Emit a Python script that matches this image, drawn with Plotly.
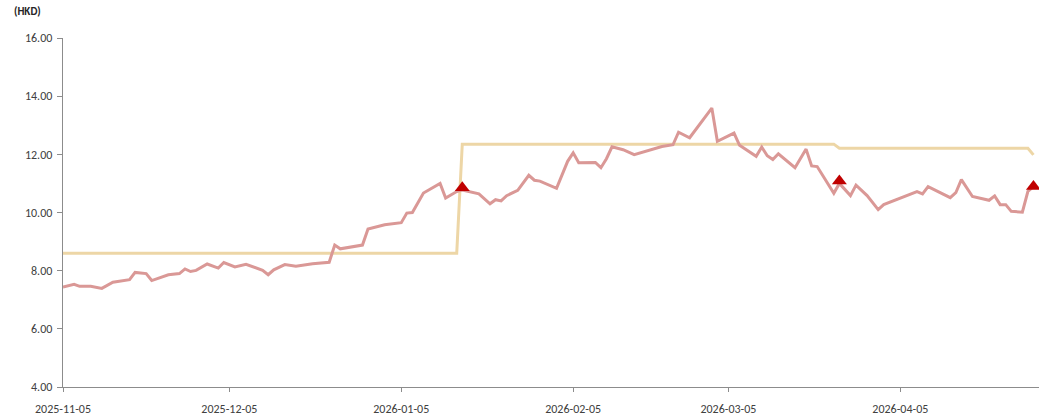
import plotly.graph_objects as go

# Share price (HKD)
price_dates = [
    "2025-11-05", "2025-11-07", "2025-11-08", "2025-11-10", "2025-11-12", "2025-11-13", "2025-11-14",
    "2025-11-17", "2025-11-18", "2025-11-20", "2025-11-21", "2025-11-24", "2025-11-26", "2025-11-27",
    "2025-11-28", "2025-11-29", "2025-12-01", "2025-12-03", "2025-12-04", "2025-12-06", "2025-12-08",
    "2025-12-11", "2025-12-12", "2025-12-13", "2025-12-15", "2025-12-17", "2025-12-20", "2025-12-23",
    "2025-12-24", "2025-12-25", "2025-12-29", "2025-12-30", "2026-01-02", "2026-01-05", "2026-01-06",
    "2026-01-07", "2026-01-09", "2026-01-12", "2026-01-13", "2026-01-15", "2026-01-16", "2026-01-19",
    "2026-01-21", "2026-01-22", "2026-01-23", "2026-01-24", "2026-01-26", "2026-01-28", "2026-01-29",
    "2026-01-30", "2026-02-02", "2026-02-04", "2026-02-05", "2026-02-06", "2026-02-09", "2026-02-10",
    "2026-02-11", "2026-02-12", "2026-02-14", "2026-02-16", "2026-02-19", "2026-02-21", "2026-02-23",
    "2026-02-24", "2026-02-26", "2026-03-02", "2026-03-03", "2026-03-06", "2026-03-07", "2026-03-10",
    "2026-03-11", "2026-03-12", "2026-03-13", "2026-03-14", "2026-03-17", "2026-03-19", "2026-03-20",
    "2026-03-21", "2026-03-24", "2026-03-25", "2026-03-27", "2026-03-28", "2026-03-30", "2026-04-01",
    "2026-04-02", "2026-04-08", "2026-04-09", "2026-04-10", "2026-04-14", "2026-04-15", "2026-04-16",
    "2026-04-18", "2026-04-21", "2026-04-22", "2026-04-23", "2026-04-24", "2026-04-25", "2026-04-27",
    "2026-04-28", "2026-04-29",
]
price_values = [
    7.44, 7.53, 7.46, 7.46, 7.39, 7.51, 7.60,
    7.69, 7.94, 7.90, 7.66, 7.86, 7.90, 8.06,
    7.97, 8.01, 8.23, 8.09, 8.28, 8.13, 8.22,
    8.01, 7.86, 8.03, 8.21, 8.15, 8.24, 8.29,
    8.88, 8.75, 8.88, 9.43, 9.58, 9.65, 9.98,
    10.00, 10.67, 11.00, 10.50, 10.72, 10.77, 10.64,
    10.30, 10.44, 10.40, 10.58, 10.76, 11.28, 11.11,
    11.08, 10.83, 11.76, 12.05, 11.71, 11.72, 11.54,
    11.85, 12.26, 12.16, 11.99, 12.16, 12.27, 12.33,
    12.76, 12.57, 13.59, 12.45, 12.73, 12.31, 11.93,
    12.25, 11.95, 11.82, 12.02, 11.54, 12.18, 11.60,
    11.58, 10.66, 11.00, 10.58, 10.94, 10.58, 10.10,
    10.27, 10.72, 10.64, 10.89, 10.51, 10.68, 11.13,
    10.55, 10.42, 10.57, 10.27, 10.27, 10.04, 10.01,
    10.73, 10.89,
]

# Target price (HKD)
target_dates = ["2025-11-05", "2026-01-15", "2026-01-16", "2026-03-24", "2026-03-25", "2026-04-28", "2026-04-29"]
target_values = [8.60, 8.60, 12.35, 12.35, 12.21, 12.21, 11.98]

# Rating markers
rating_dates = ["2026-01-16", "2026-03-25", "2026-04-29"]
rating_values = [10.85, 11.08, 10.89]

tick_dates = ["2025-11-05", "2025-12-05", "2026-01-05", "2026-02-05", "2026-03-05", "2026-04-05"]
y_ticks = [4, 6, 8, 10, 12, 14, 16]

FONT = "Calibri, Carlito, 'Liberation Sans Narrow', 'Open Sans', Arial, sans-serif"

fig = go.Figure()
fig.add_trace(go.Scatter(
    x=target_dates, y=target_values, mode="lines",
    line=dict(color="#EDD6A6", width=3), hoverinfo="skip", showlegend=False,
))
fig.add_trace(go.Scatter(
    x=price_dates, y=price_values, mode="lines",
    line=dict(color="#DA9896", width=3), hoverinfo="skip", showlegend=False,
))
fig.add_trace(go.Scatter(
    x=rating_dates, y=rating_values, mode="markers",
    marker=dict(symbol="triangle-up", size=13, color="#C00000", line=dict(width=0)),
    hoverinfo="skip", showlegend=False,
))

fig.update_layout(
    width=1053, height=418,
    margin=dict(l=63, r=14, t=38, b=31, autoexpand=False),
    paper_bgcolor="white", plot_bgcolor="white",
    font=dict(family=FONT, size=12, color="#404040"),
    showlegend=False,
    xaxis=dict(
        type="date", automargin=False,
        range=["2025-11-05", "2026-04-30"],
        tickvals=tick_dates, ticktext=tick_dates,
        showgrid=False, zeroline=False,
        showline=True, linecolor="#8C8C8C", linewidth=1.3,
        ticks="outside", ticklen=4, tickcolor="#8C8C8C", tickwidth=1,
        ticklabelstandoff=6,
        tickfont=dict(family=FONT, size=12, color="#404040"),
    ),
    yaxis=dict(
        range=[4, 16], automargin=False,
        tickvals=y_ticks, ticktext=[f"{v:.2f}" for v in y_ticks],
        showgrid=False, zeroline=False,
        showline=True, linecolor="#8C8C8C", linewidth=1.3,
        ticks="outside", ticklen=5, tickcolor="#8C8C8C", tickwidth=1,
        ticklabelstandoff=2,
        tickfont=dict(family=FONT, size=12, color="#404040"),
    ),
    annotations=[dict(
        text="<b>(HKD)</b>", xref="paper", yref="paper",
        x=-0.0523, y=1.0745, xanchor="left", yanchor="middle",
        showarrow=False, font=dict(family=FONT, size=11, color="#262626"),
    )],
)

fig.write_html(
    "out.html",
    config={"displayModeBar": False, "staticPlot": True},
    post_script="document.body.style.margin='0';document.body.style.overflow='hidden';",
)
